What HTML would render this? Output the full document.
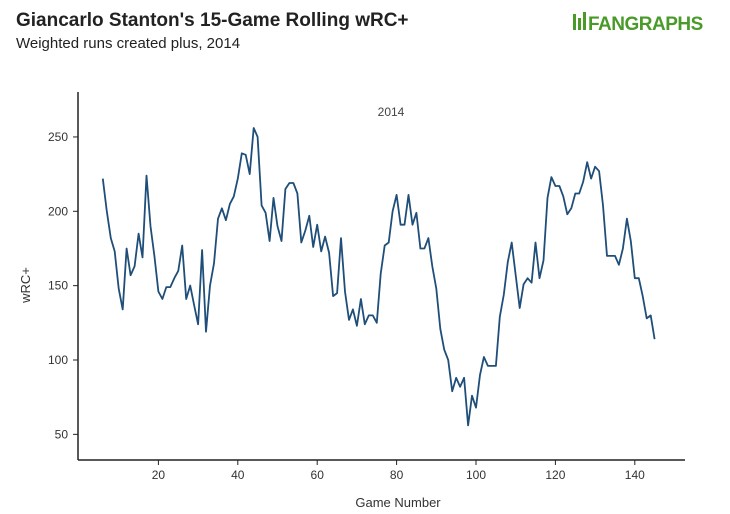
<!DOCTYPE html>
<html><head><meta charset="utf-8"><style>
body{margin:0;background:#fff;width:730px;height:509px;overflow:hidden;font-family:"Liberation Sans",sans-serif}
</style></head><body>
<svg width="730" height="509" xmlns="http://www.w3.org/2000/svg">
<text x="16" y="26" font-size="19" font-weight="bold" fill="#222">Giancarlo Stanton's 15-Game Rolling wRC+</text>
<text x="16" y="48" font-size="15" fill="#222">Weighted runs created plus, 2014</text>
<g>
<rect x="573" y="14" width="3" height="16" fill="#4a9a2a"/><rect x="578" y="18" width="3" height="12" fill="#4a9a2a"/><rect x="583" y="12" width="3" height="18" fill="#4a9a2a"/>
<text x="588" y="30" font-size="19" font-weight="bold" fill="#4a9a2a" letter-spacing="-0.5">FANGRAPHS</text>
</g>
<text x="391" y="116" font-size="12" fill="#444" text-anchor="middle">2014</text>
<g id="axes"></g>
<path id="line" fill="none" stroke="#1f4e79" stroke-width="1.8" stroke-linejoin="round"/>
<text x="398" y="507" font-size="13" fill="#333" text-anchor="middle">Game Number</text>
<text transform="translate(30,285) rotate(-90)" font-size="13" fill="#333" text-anchor="middle">wRC+</text>
</svg>
<script>
const startGame = 6;
const wrcValues = [222,200,182,173,148,134,175,157,163,185,169,224,190,170,146,141,149,149,155,160,177,141,150,137,124,174,119,150,165,195,202,194,205,210,222,239,238,225,256,250,204,199,180,209,190,180,215,219,219,212,179,187,197,176,191,173,183,172,143,145,182,146,127,134,123,141,124,130,130,125,158,177,179,200,211,191,191,211,191,199,175,175,182,163,148,121,107,100,79,88,82,88,56,76,68,90,102,96,96,96,129,144,166,179,157,135,151,155,152,179,155,167,209,223,217,217,210,198,202,212,212,220,233,222,230,227,204,170,170,170,164,175,195,180,155,155,143,128,130,114];
const xTicks = [20,40,60,80,100,120,140];
const yTicks = [50,100,150,200,250];
const X = g => 79 + (g) * 3.97;
const Y = v => 360 - (v - 100) * 1.487;
const ns = "http://www.w3.org/2000/svg";
const ax = document.getElementById('axes');
function mk(t, a){const e=document.createElementNS(ns,t);for(const k in a)e.setAttribute(k,a[k]);ax.appendChild(e);return e;}
let e = mk('line',{x1:78,y1:92,x2:78,y2:460,stroke:'#222','stroke-width':1.5});


e = mk('line',{x1:78,y1:460,x2:685,y2:460,stroke:'#222','stroke-width':1.5});


yTicks.forEach(v=>{
  const t = mk('line',{x1:73,x2:78,y1:Y(v),y2:Y(v),stroke:'#222'});
  
  
  const l = mk('text',{x:68,y:Y(v)+4,'font-size':12,fill:'#333','text-anchor':'end'});
  l.textContent = v;
  
  
});
xTicks.forEach(g=>{
  const t = mk('line',{x1:X(g),x2:X(g),y1:460,y2:465,stroke:'#222'});
  
  
  const l = mk('text',{x:X(g),y:479,'font-size':12,fill:'#333','text-anchor':'middle'});
  l.textContent = g;
  
  
});
document.getElementById('line').setAttribute('d', wrcValues.map((v,i)=>(i?'L':'M')+X(startGame+i).toFixed(1)+','+Y(v).toFixed(1)).join(''));
</script>
</body></html>
